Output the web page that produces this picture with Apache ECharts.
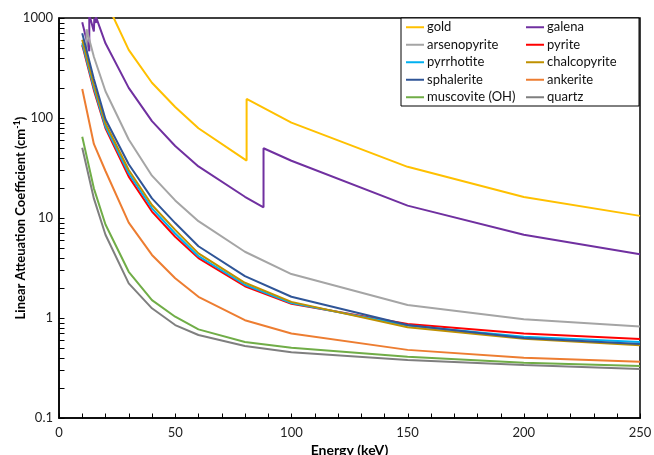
<!DOCTYPE html>
<html>
<head>
<meta charset="utf-8">
<script src="https://cdn.jsdelivr.net/npm/echarts@6/dist/echarts.min.js"></script>
<style>
  html, body { margin: 0; padding: 0; background: #fff; }
  #chart { width: 654px; height: 455px; }
</style>
</head>
<body>
<div id="chart"></div>
<script>
// energies (keV) shared by most minerals
const energy = [10, 15, 20, 30, 40, 50, 60, 80, 100, 150, 200, 250];

// minerals with absorption edges get their own energy lists
const goldE = [10, 15, 20, 30, 40, 50, 60, 80.725, 80.725, 100, 150, 200, 250];
const gold = [2300, 3500, 1500, 480, 225, 129, 79, 37.5, 155, 90, 32.5, 16.2, 10.5];

const galenaE = [10, 13.035, 13.035, 15, 15.2, 15.2, 15.86, 15.86, 20, 30, 40, 50, 60, 80, 88.005, 88.005, 100, 150, 200, 250];
const galena = [906, 465, 1080, 735, 715, 985, 893, 1034, 558, 200, 93, 52.5, 32.8, 16.3, 12.8, 49.8, 37.4, 13.3, 6.8, 4.35];

const arsenoE = [10, 11.867, 11.867, 15, 20, 30, 40, 50, 60, 80, 100, 150, 200, 250];
const arsenopyrite = [530, 420, 770, 410, 185, 61, 26.5, 15, 9.3, 4.6, 2.75, 1.35, 0.97, 0.82];

const pyrite = [537, 190, 79, 25.9, 11.6, 6.5, 3.97, 2.08, 1.39, 0.87, 0.70, 0.617];
const pyrrhotite = [558, 200, 82, 28, 12.5, 7.0, 4.15, 2.15, 1.41, 0.84, 0.65, 0.575];
const chalcopyrite = [605, 215, 88, 30.2, 13.5, 7.6, 4.43, 2.25, 1.45, 0.81, 0.62, 0.535];
const sphalerite = [703, 245, 97, 34.5, 15.7, 8.9, 5.22, 2.62, 1.63, 0.85, 0.63, 0.55];
const ankerite = [195, 55, 29.5, 9.0, 4.27, 2.5, 1.63, 0.95, 0.70, 0.48, 0.40, 0.366];
const muscovite = [65, 19.8, 8.6, 2.9, 1.51, 1.03, 0.77, 0.575, 0.505, 0.41, 0.357, 0.331];
const quartz = [50.5, 15.7, 6.8, 2.22, 1.25, 0.85, 0.676, 0.525, 0.454, 0.38, 0.339, 0.309];

const yTicks = [0.1, 1, 10, 100, 1000];
const xMin = 0, xMax = 250, xStep = 50, xMinorStep = 10;

const font = 'Lato';

function pairs(xs, ys) {
  return xs.map((x, i) => [x, ys[i]]);
}

// minor log ticks 2..9 in every decade, plus the decades
const yTickMarks = [];
for (let d = 0; d < yTicks.length; d++) {
  yTickMarks.push(yTicks[d]);
  if (d < yTicks.length - 1) {
    for (let m = 2; m <= 9; m++) yTickMarks.push(+(yTicks[d] * m).toPrecision(3));
  }
}
// x ticks every 10 keV
const xTickMarks = [];
for (let v = xMin; v <= xMax; v += xMinorStep) xTickMarks.push(v);

const lines = [
  ['gold', '#FFC000', goldE, gold],
  ['galena', '#7030A0', galenaE, galena],
  ['arsenopyrite', '#A5A5A5', arsenoE, arsenopyrite],
  ['pyrite', '#FF0000', energy, pyrite],
  ['pyrrhotite', '#00B0F0', energy, pyrrhotite],
  ['chalcopyrite', '#BF9000', energy, chalcopyrite],
  ['sphalerite', '#2F5597', energy, sphalerite],
  ['ankerite', '#ED7D31', energy, ankerite],
  ['muscovite (OH)', '#70AD47', energy, muscovite],
  ['quartz', '#7F7F7F', energy, quartz]
];

// legend in two columns, same order as the series
function legendCol(left, names) {
  return {
    orient: 'vertical',
    left: left,
    top: 18.5,
    z: 5,
    padding: 0,
    icon: 'rect',
    itemWidth: 18,
    itemHeight: 2,
    itemGap: 0,
    textStyle: { fontFamily: font, fontSize: 13, color: '#111', lineHeight: 17.5, padding: [0, 0, 0, -2] },
    data: names
  };
}

// inward tick marks, placed through the axes' own scales
function tickSeries(name, data, horizontal) {
  return {
    name: name,
    type: 'custom',
    silent: true,
    clip: false,
    z: 10,
    data: data,
    renderItem: (params, api) => {
      const p = api.coord([api.value(0), api.value(1)]);
      const x = Math.round(p[0]) + 0.5, y = Math.round(p[1]) + 0.5;
      const shape = horizontal
        ? { x1: x, y1: y, x2: x, y2: y - 5 }
        : { x1: x, y1: y, x2: x + 5, y2: y };
      return { type: 'line', shape: shape, style: { stroke: '#000', lineWidth: 1 } };
    }
  };
}

const chart = echarts.init(document.getElementById('chart'), null, { renderer: 'canvas' });

chart.setOption({
  animation: false,
  backgroundColor: '#fff',
  grid: {
    left: 59, right: 14, top: 18, bottom: 37,
    outerBoundsMode: 'none',
    show: true, backgroundColor: 'rgba(0,0,0,0)', borderColor: '#000', borderWidth: 1.5
  },
  graphic: [{
    type: 'rect',
    z: 3,
    shape: { x: 401, y: 18, width: 238, height: 88 },
    style: { fill: '#fff', stroke: '#000', lineWidth: 1 }
  }],
  legend: [
    legendCol(406, lines.filter((l, i) => i % 2 === 0).map(l => l[0])),
    legendCol(526, lines.filter((l, i) => i % 2 === 1).map(l => l[0]))
  ],
  xAxis: {
    type: 'value',
    min: xMin, max: xMax, interval: xStep,
    name: 'Energy (keV)',
    nameLocation: 'middle',
    nameGap: 21,
    nameTextStyle: { fontFamily: font, fontSize: 14, fontWeight: 'bold', color: '#000' },
    axisLine: { show: true, lineStyle: { color: '#000', width: 1.5 } },
    axisTick: { show: false },
    axisLabel: { fontFamily: font, fontSize: 13, color: '#222', margin: 8 },
    splitLine: { show: false }
  },
  yAxis: {
    type: 'log',
    logBase: 10,
    min: 0.1, max: 1000,
    name: '{t|Linear Atteuation Coefficient (cm}{s|-1}{t|)}',
    nameLocation: 'middle',
    nameGap: 30,
    nameMoveOverlap: false,
    nameRotate: 90,
    nameTextStyle: {
      rich: {
        t: { fontFamily: font, fontSize: 13, fontWeight: 'bold', color: '#000', lineHeight: 16 },
        s: { fontFamily: font, fontSize: 9, fontWeight: 'bold', color: '#000', lineHeight: 11, verticalAlign: 'top' }
      }
    },
    axisLine: { show: true, lineStyle: { color: '#000', width: 1.5 } },
    axisTick: { show: false },
    axisLabel: {
      fontFamily: font, fontSize: 13, color: '#222', margin: 6,
      customValues: yTicks,
      formatter: v => String(+v.toPrecision(3))
    },
    splitLine: { show: false }
  },
  series: lines.map(l => ({
    name: l[0],
    type: 'line',
    symbol: 'none',
    clip: true,
    color: l[1],
    lineStyle: { color: l[1], width: 2 },
    data: pairs(l[2], l[3])
  })).concat([
    tickSeries('xticks', xTickMarks.map(v => [v, yTicks[0]]), true),
    tickSeries('yticks', yTickMarks.map(v => [xMin, v]), false)
  ])
});
</script>
</body>
</html>
